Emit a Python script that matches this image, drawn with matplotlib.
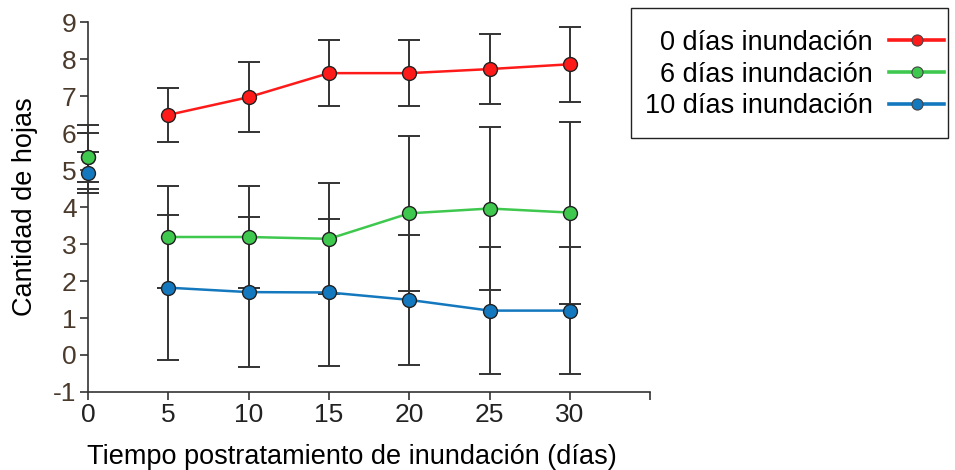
import matplotlib
matplotlib.use("Agg")
import matplotlib.pyplot as plt
from matplotlib.lines import Line2D
from matplotlib.patches import Rectangle

plt.rcParams['font.family'] = ['Liberation Sans', 'DejaVu Sans']
plt.rcParams['axes.unicode_minus'] = False

days = [0, 5, 10, 15, 20, 25, 30]

series_labels = ["0 días inundación", "6 días inundación", "10 días inundación"]
series_colors = ["#ff1a1a", "#3ec84e", "#1478be"]

leaves_0 = [5.36, 6.49, 6.97, 7.62, 7.62, 7.73, 7.86]
err_0 = [0.86, 0.73, 0.95, 0.90, 0.90, 0.94, 1.02]

leaves_6 = [5.34, 3.19, 3.19, 3.14, 3.83, 3.96, 3.85]
err_6 = [0.65, 1.38, 1.38, 1.50, 2.10, 2.21, 2.46]

leaves_10 = [4.93, 1.82, 1.70, 1.69, 1.49, 1.20, 1.20]
err_10 = [0.56, 1.96, 2.02, 2.00, 1.76, 1.72, 1.72]

x_ticks = [0, 5, 10, 15, 20, 25, 30, 35]
x_tick_labels = ["0", "5", "10", "15", "20", "25", "30", ""]
y_ticks = list(range(-1, 10))

fig = plt.figure(figsize=(9.55, 4.7), dpi=100)
ax = fig.add_axes([0.092, 0.166, 0.589, 0.787])

handles = []
for y, e, color, label in zip([leaves_0, leaves_6, leaves_10],
                              [err_0, err_6, err_10],
                              series_colors, series_labels):
    ax.errorbar(days, y, yerr=e, fmt='none', ecolor='#333333',
                elinewidth=1.4, capsize=8, capthick=1.4, clip_on=False, zorder=2)
    # the baseline (day 0) value is a standalone point; the time course starts at day 5
    ax.plot(days[1:], y[1:], color=color, lw=1.8, marker='o', markersize=10,
            markerfacecolor=color, markeredgecolor='#222222',
            markeredgewidth=1.0, clip_on=False, zorder=3)
    ax.plot(days[:1], y[:1], linestyle='none', marker='o', markersize=10,
            markerfacecolor=color, markeredgecolor='#222222',
            markeredgewidth=1.0, clip_on=False, zorder=3)
    handles.append(Line2D([], [], color=color, lw=2.6, marker='o', markersize=8,
                          markerfacecolor=color, markeredgecolor='#444444',
                          markeredgewidth=0.8, label=label))

ax.set_xlim(0, 35)
ax.set_ylim(-1, 9)
ax.set_xticks(x_ticks)
ax.set_xticklabels(x_tick_labels)
ax.set_yticks(y_ticks)

for side in ("top", "right"):
    ax.spines[side].set_visible(False)
for side in ("left", "bottom"):
    ax.spines[side].set_color("#333333")
    ax.spines[side].set_linewidth(1.2)

ax.tick_params(axis='both', direction='out', length=6, width=1.2,
               color='#333333', labelsize=19, labelcolor='#222222', pad=2)
ax.tick_params(axis='y', labelcolor='#4a3a2c')

ax.set_xlabel("Tiempo postratamiento de inundación (días)", fontsize=19.5)
ax.xaxis.set_label_coords(0.469, -0.14)
ax.set_ylabel("Cantidad de hojas", fontsize=19.5, labelpad=11)

# legend box drawn as a separate frame so the handles can sit close to its right edge
fig.patches.append(Rectangle((0.6607, 0.7064), 0.332, 0.2766,
                             transform=fig.transFigure, facecolor='white',
                             edgecolor='#222222', linewidth=1.0, zorder=1))
leg = fig.legend(handles=handles, loc='upper right',
                 bbox_to_anchor=(958 / 955, 1 - 16 / 470), markerfirst=False,
                 fontsize=19.5, frameon=False, handlelength=2.03,
                 labelspacing=0.22, borderpad=0.0, handletextpad=0.63)
leg.set_zorder(2)

fig.savefig("out.png", dpi=100)
